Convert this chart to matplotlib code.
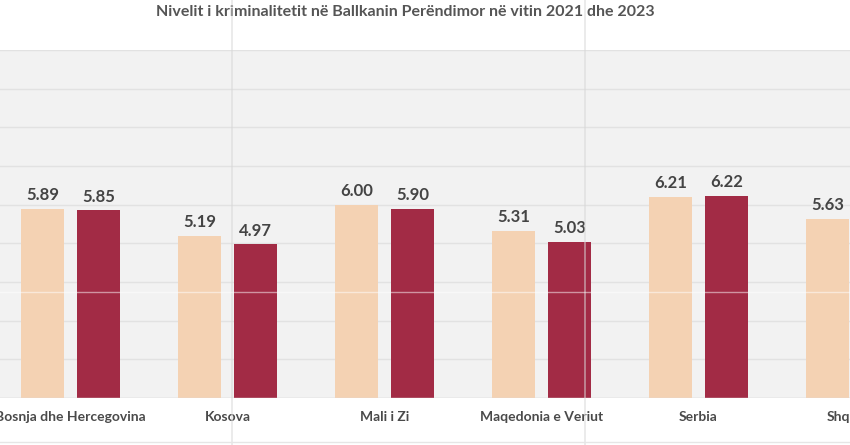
import matplotlib
matplotlib.use("Agg")
import matplotlib.pyplot as plt
import numpy as np

categories = ["Bosnja dhe Hercegovina", "Kosova", "Mali i Zi",
              "Maqedonia e Veriut", "Serbia", "Shqipëria"]
values_2021 = [5.89, 5.19, 6.00, 5.31, 6.21, 5.63]
values_2023 = [5.85, 4.97, 5.90, 5.03, 6.22, 5.63]
title = "Nivelit i kriminalitetit në Ballkanin Perëndimor në vitin 2021 dhe 2023"

W, H = 850, 445
fig = plt.figure(figsize=(W / 100, H / 100), dpi=100)
fig.patch.set_facecolor("white")

# axes geometry in pixels (chart is a crop of a wider chart)
left_px, right_px = -8, 934
top_px, base_px = 50, 398
ax = fig.add_axes([left_px / W, (H - base_px) / H,
                   (right_px - left_px) / W, (base_px - top_px) / H])
ax.set_facecolor("#f2f2f2")

x = np.arange(len(categories))
bw = 43 / 157
off = 28 / 157
c21 = "#f4d2b3"
c23 = "#a22b45"
ax.bar(x - off, values_2021, bw, bottom=0, color=c21, zorder=3)
ax.bar(x + off, values_2023, bw, bottom=0, color=c23, zorder=3)

ax.set_ylim(1, 10)
ax.set_xlim(-0.5, len(categories) - 0.5)
ax.set_yticks(np.arange(1, 11, 1))
ax.yaxis.grid(True, color="#e2e2e2", linewidth=1.0, zorder=0)
ax.tick_params(axis="y", left=False, labelleft=False)
ax.tick_params(axis="x", bottom=False, labelbottom=False)
for s in ax.spines.values():
    s.set_visible(False)
ax.axhline(1, color="#dcdcdc", linewidth=1, zorder=4)

font = ["Lato", "DejaVu Sans"]
for xs, vals in ((x - off, values_2021), (x + off, values_2023)):
    for xi, v in zip(xs, vals):
        ax.annotate(f"{v:.2f}", (xi, v), xytext=(0, 10), textcoords="offset points",
                    ha="center", va="center", fontsize=12, fontweight="bold",
                    color="#444444", family=font, zorder=5)

for xi, c in zip(x, categories):
    ax.annotate(c, (xi, 1), xytext=(0, -14), textcoords="offset points",
                ha="center", va="center", fontsize=10, fontweight="bold",
                color="#4a4a4a", family=font, annotation_clip=False)

fig.text(405 / W, 1 - 12 / H, title, ha="center", va="center",
         fontsize=11.5, fontweight="bold", color="#555555", family=font)

# faint screenshot seams
for px in (232, 585):
    fig.add_artist(plt.Line2D([px / W, px / W], [0, 1], color="#d8d8d8",
                              linewidth=1.2, alpha=0.6, zorder=10))
fig.add_artist(plt.Line2D([0, 1], [1 - 292 / H, 1 - 292 / H], color="white",
                          linewidth=1.0, alpha=0.5, zorder=10))
fig.add_artist(plt.Line2D([0, 1], [1 - 442 / H, 1 - 442 / H], color="#e6e6e6",
                          linewidth=1.0, zorder=10))

fig.savefig("out.png", dpi=100, facecolor="white")
